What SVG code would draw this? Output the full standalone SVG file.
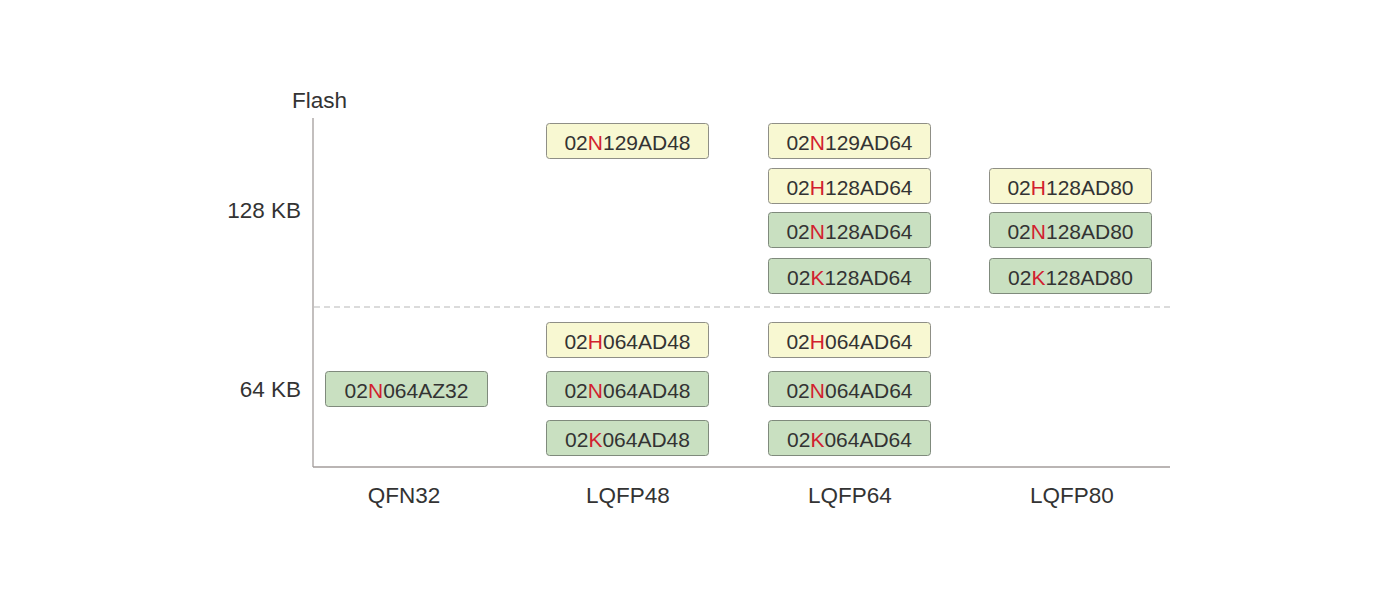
<svg xmlns="http://www.w3.org/2000/svg" width="1400" height="600" viewBox="0 0 1400 600">
<style>
text{font-family:"Liberation Sans",Arial,sans-serif;font-size:21px;fill:#333}
.big{font-size:22.5px}
.lbl{text-anchor:middle}
.ax{text-anchor:end}
.y rect{fill:#f8f8d2;stroke:#8f8f86;stroke-width:1}
.g rect{fill:#c9e0c1;stroke:#7f8a7c;stroke-width:1}
.r{fill:#d2202f}
</style>
<rect width="1400" height="600" fill="#fff"/>
<g id="axes">
<line x1="313" y1="118" x2="313" y2="467" stroke="#a39d9b" stroke-width="1.3"/>
<line x1="313" y1="467" x2="1170" y2="467" stroke="#a39d9b" stroke-width="1.3"/>
<line x1="314" y1="307" x2="1172" y2="307" stroke="#cfcfcf" stroke-width="1.3" stroke-dasharray="6,4"/>
</g>
<g id="labels">
<text class="big" x="292" y="108">Flash</text>
<text class="big ax" x="301" y="218">128 KB</text>
<text class="big ax" x="301" y="397">64 KB</text>
<text class="big lbl" x="404" y="503">QFN32</text>
<text class="big lbl" x="628" y="503">LQFP48</text>
<text class="big lbl" x="850" y="503">LQFP64</text>
<text class="big lbl" x="1072" y="503">LQFP80</text>
</g>
<g id="n1" class="y"><rect x="546.5" y="123.5" width="162" height="35" rx="3"/><text class="lbl" x="627.5" y="150">02<tspan class="r">N</tspan>129AD48</text></g>
<g id="n2" class="y"><rect x="546.5" y="322.5" width="162" height="35" rx="3"/><text class="lbl" x="627.5" y="349">02<tspan class="r">H</tspan>064AD48</text></g>
<g id="n3" class="g"><rect x="546.5" y="371.5" width="162" height="35" rx="3"/><text class="lbl" x="627.5" y="398">02<tspan class="r">N</tspan>064AD48</text></g>
<g id="n4" class="g"><rect x="546.5" y="420.5" width="162" height="35" rx="3"/><text class="lbl" x="627.5" y="447">02<tspan class="r">K</tspan>064AD48</text></g>
<g id="n5" class="g"><rect x="325.5" y="371.5" width="162" height="35" rx="3"/><text class="lbl" x="406.5" y="398">02<tspan class="r">N</tspan>064AZ32</text></g>
<g id="n6" class="y"><rect x="768.5" y="123.5" width="162" height="35" rx="3"/><text class="lbl" x="849.5" y="150">02<tspan class="r">N</tspan>129AD64</text></g>
<g id="n7" class="y"><rect x="768.5" y="168.5" width="162" height="35" rx="3"/><text class="lbl" x="849.5" y="195">02<tspan class="r">H</tspan>128AD64</text></g>
<g id="n8" class="g"><rect x="768.5" y="212.5" width="162" height="35" rx="3"/><text class="lbl" x="849.5" y="239">02<tspan class="r">N</tspan>128AD64</text></g>
<g id="n9" class="g"><rect x="768.5" y="258.5" width="162" height="35" rx="3"/><text class="lbl" x="849.5" y="285">02<tspan class="r">K</tspan>128AD64</text></g>
<g id="n10" class="y"><rect x="768.5" y="322.5" width="162" height="35" rx="3"/><text class="lbl" x="849.5" y="349">02<tspan class="r">H</tspan>064AD64</text></g>
<g id="n11" class="g"><rect x="768.5" y="371.5" width="162" height="35" rx="3"/><text class="lbl" x="849.5" y="398">02<tspan class="r">N</tspan>064AD64</text></g>
<g id="n12" class="g"><rect x="768.5" y="420.5" width="162" height="35" rx="3"/><text class="lbl" x="849.5" y="447">02<tspan class="r">K</tspan>064AD64</text></g>
<g id="n13" class="y"><rect x="989.5" y="168.5" width="162" height="35" rx="3"/><text class="lbl" x="1070.5" y="195">02<tspan class="r">H</tspan>128AD80</text></g>
<g id="n14" class="g"><rect x="989.5" y="212.5" width="162" height="35" rx="3"/><text class="lbl" x="1070.5" y="239">02<tspan class="r">N</tspan>128AD80</text></g>
<g id="n15" class="g"><rect x="989.5" y="258.5" width="162" height="35" rx="3"/><text class="lbl" x="1070.5" y="285">02<tspan class="r">K</tspan>128AD80</text></g>
</svg>
